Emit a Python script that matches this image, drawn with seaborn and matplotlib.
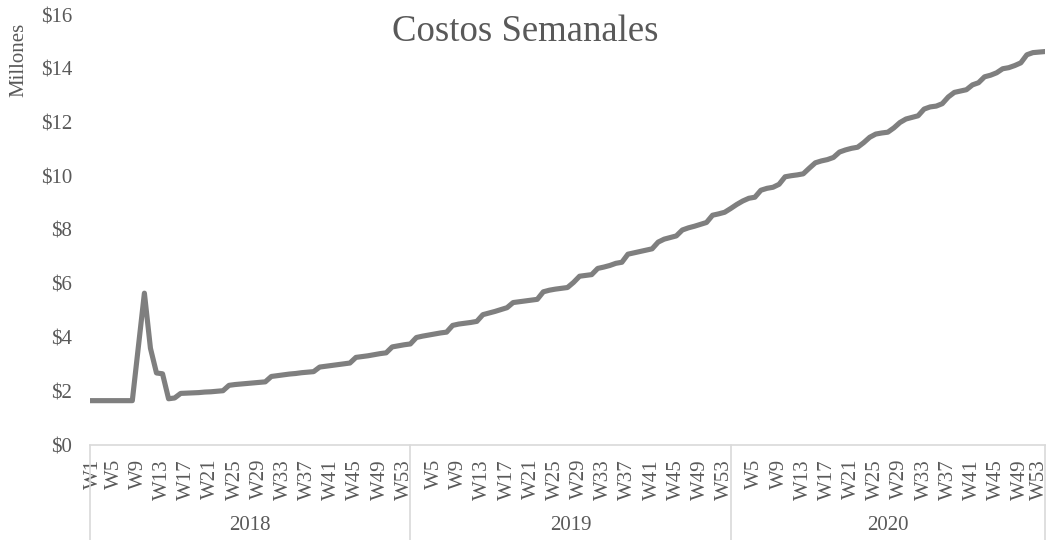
import numpy as np
import pandas as pd
import matplotlib
matplotlib.use("Agg")
import matplotlib.pyplot as plt
import matplotlib.transforms as mtransforms
import seaborn as sns

# Weekly costs (millions of $)
years = ["2018", "2019", "2020"]
weeks = [f"W{i}" for i in range(1, 54)]

cost_2018 = [1.65, 1.65, 1.65, 1.65, 1.65, 1.65, 1.65, 1.65, 3.65, 5.65,
             3.60, 2.68, 2.65, 1.72, 1.75, 1.92, 1.93, 1.94, 1.95, 1.97,
             1.98, 2.00, 2.02, 2.22, 2.25, 2.27, 2.29, 2.31, 2.33, 2.35,
             2.55, 2.58, 2.61, 2.64, 2.66, 2.69, 2.71, 2.73, 2.90, 2.93,
             2.96, 2.99, 3.02, 3.05, 3.26, 3.29, 3.32, 3.36, 3.40, 3.43,
             3.65, 3.69, 3.73]
cost_2019 = [3.76, 4.00, 4.05, 4.09, 4.13, 4.17, 4.20, 4.45, 4.50, 4.53,
             4.56, 4.60, 4.85, 4.91, 4.97, 5.04, 5.11, 5.30, 5.33, 5.36,
             5.39, 5.42, 5.70, 5.76, 5.80, 5.83, 5.86, 6.05, 6.28, 6.31,
             6.34, 6.57, 6.62, 6.68, 6.76, 6.80, 7.10, 7.15, 7.20, 7.25,
             7.30, 7.55, 7.66, 7.72, 7.78, 8.00, 8.08, 8.14, 8.21, 8.28,
             8.55, 8.60, 8.66]
cost_2020 = [8.80, 8.95, 9.08, 9.18, 9.22, 9.48, 9.55, 9.59, 9.70, 9.98,
             10.02, 10.05, 10.09, 10.30, 10.50, 10.57, 10.62, 10.70, 10.90, 10.98,
             11.04, 11.08, 11.25, 11.45, 11.57, 11.61, 11.64, 11.80, 12.00, 12.13,
             12.19, 12.25, 12.50, 12.58, 12.61, 12.70, 12.95, 13.12, 13.17, 13.22,
             13.40, 13.48, 13.70, 13.76, 13.85, 14.00, 14.04, 14.12, 14.22, 14.52,
             14.60, 14.62, 14.64]

TXT = "#595959"
LINE = "#7f7f7f"
AXC = "#d9d9d9"

df = pd.DataFrame({
    "year": np.repeat(years, len(weeks)),
    "week": weeks * len(years),
    "cost": cost_2018 + cost_2019 + cost_2020,
})
df["pos"] = np.arange(len(df))

sns.set_theme(style="white")
plt.rcParams["font.family"] = ["Liberation Serif", "DejaVu Serif"]

fig = plt.figure(figsize=(10.51, 5.40), dpi=100)
ax = fig.add_axes([90 / 1051, 95 / 540, 955 / 1051, 430 / 540])

sns.lineplot(data=df, x="pos", y="cost", ax=ax, color=LINE, linewidth=3.7,
             solid_capstyle="round", solid_joinstyle="round")

n = len(df)
ax.set_xlim(0, n - 1)
ax.set_ylim(0, 16)
ax.set_yticks(range(0, 17, 2))
ax.set_yticklabels([f"${v}" for v in range(0, 17, 2)])

# week tick labels: every 4th week, first week of later years is hidden
tick_pos, tick_lab = [], []
for k, yr in enumerate(years):
    for j in range(0, len(weeks), 4):
        if k > 0 and j == 0:
            continue
        tick_pos.append(k * len(weeks) + j)
        tick_lab.append(weeks[j])
ax.set_xticks(tick_pos)
ax.set_xticklabels(tick_lab, rotation=90)

ax.tick_params(axis="y", length=0, pad=13, labelsize=15, labelcolor=TXT)
ax.tick_params(axis="x", length=0, pad=10, labelsize=15, labelcolor=TXT)
ax.set_xlabel("")
ax.set_ylabel("")

# nudge the first and last week labels like the original
labels = ax.get_xticklabels()
labels[0].set_transform(labels[0].get_transform() +
                        mtransforms.ScaledTranslation(3 / 100, 0, fig.dpi_scale_trans))
labels[-1].set_transform(labels[-1].get_transform() +
                         mtransforms.ScaledTranslation(-6 / 100, 0, fig.dpi_scale_trans))

for s in ["top", "right", "left"]:
    ax.spines[s].set_visible(False)
ax.spines["bottom"].set_color(AXC)
ax.spines["bottom"].set_linewidth(1.2)

# year group separators and labels below the axis
trans = ax.get_xaxis_transform()
bounds = [k * len(weeks) for k in range(len(years))] + [n - 1]
for b in bounds:
    ax.plot([b, b], [0, -0.225], transform=trans, color=AXC, lw=1.2,
            clip_on=False)
for k, yr in enumerate(years):
    mid = (bounds[k] + bounds[k + 1]) / 2
    ax.text(mid, -0.188, yr, transform=trans, ha="center", va="center",
            fontsize=15, color=TXT)

fig.text(525 / 1051, 1 - 32 / 540, "Costos Semanales", ha="center",
         va="center", fontsize=26.5, color=TXT)
fig.text(19 / 1051, 1 - 60 / 540, "Millones", rotation=90, ha="center",
         va="center", fontsize=15, color=TXT)

fig.savefig("out.png", dpi=100, facecolor="white")
